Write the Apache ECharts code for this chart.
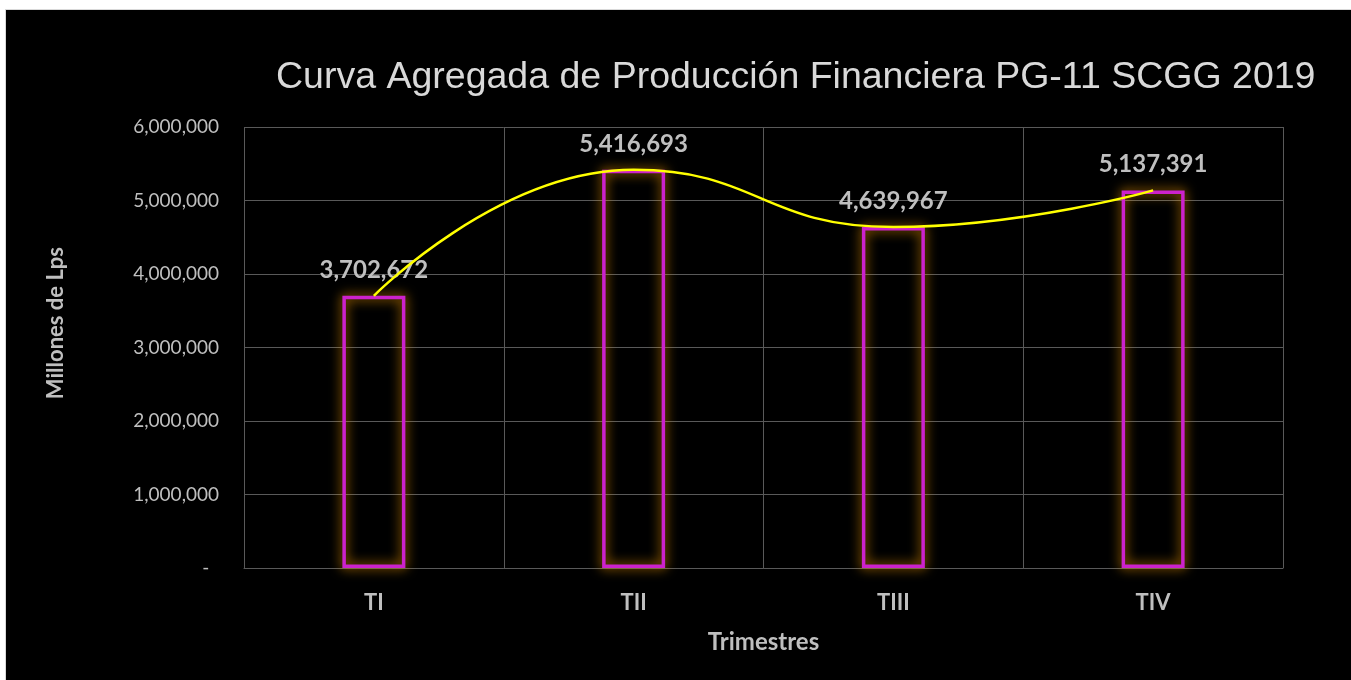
<!DOCTYPE html>
<html>
<head>
<meta charset="utf-8">
<script src="https://cdn.jsdelivr.net/npm/echarts@6/dist/echarts.min.js"></script>
<style>
  body { margin: 0; background: #ffffff; }
  #frame { position: absolute; left: 5px; top: 9px; width: 1346px; height: 671px; background: #d9d9d9; }
  #myChart01 { position: absolute; left: 6px; top: 10px; width: 1345px; height: 670px; background: #000000; }
</style>
</head>
<body>
<div id="frame"></div>
<div id="myChart01"></div>
<script>
// ----------------데이터----------------
const trimestres = ["TI", "TII", "TIII", "TIV"];
const produccion = [3702672, 5416693, 4639967, 5137391];
const yTicks = [0, 1000000, 2000000, 3000000, 4000000, 5000000, 6000000];

// ----------------막대 + 곡선 차트----------------
let chartDom = document.getElementById("myChart01");
let myChart = echarts.init(chartDom);
let option01;

option01 = {
  backgroundColor: "#000000",
  animation: false,
  title: {
    text: "Curva Agregada de Producción Financiera PG-11 SCGG 2019",
    left: 265,
    top: 44,
    textStyle: {
      fontFamily: "Liberation Sans",
      fontSize: 37.5,
      fontWeight: "normal",
      color: "#d9d9d9",
    },
  },
  grid: {
    left: 238,
    right: 68,
    top: 117,
    bottom: 112,
  },
  xAxis: {
    type: "category",
    data: trimestres,
    name: "Trimestres",
    nameLocation: "middle",
    nameGap: 62,
    nameTextStyle: {
      fontFamily: "Lato",
      fontSize: 24,
      fontWeight: "bold",
      color: "#bfbfbf",
    },
    axisLine: { lineStyle: { color: "#595959", width: 1 } },
    axisTick: { show: false }, // 눈금 제거
    axisLabel: {
      margin: 24,
      fontFamily: "Lato",
      fontSize: 22,
      fontWeight: "bold",
      color: "#bfbfbf",
    },
    splitLine: { show: true, lineStyle: { color: "#595959", width: 1 } },
  },
  yAxis: {
    type: "value",
    min: yTicks[0],
    max: yTicks[yTicks.length - 1],
    interval: yTicks[1] - yTicks[0],
    axisLine: { show: false },
    axisTick: { show: false },
    axisLabel: {
      margin: 25,
      fontFamily: "Lato",
      fontSize: 19,
      color: "#bfbfbf",
      formatter: function (v) {
        return v === 0 ? "-  " : v.toLocaleString("en-US");
      },
    },
    splitLine: { lineStyle: { color: "#595959", width: 1 } },
  },
  graphic: [
    {
      // y축 이름
      type: "text",
      left: 39,
      top: 237,
      rotation: Math.PI / 2,
      style: {
        text: "Millones de Lps",
        fontFamily: "Lato",
        fontSize: 22,
        fontWeight: "bold",
        fill: "#bfbfbf",
      },
    },
  ],
  series: [
    {
      name: "Producción",
      type: "bar",
      barWidth: 63,
      data: produccion,
      itemStyle: {
        color: "rgba(0,0,0,0)", //속 비움
        borderColor: "#cc22cc",
        borderWidth: 3.5,
        shadowColor: "rgba(255,160,0,1)",
        shadowBlur: 12,
      },
      label: {
        show: true,
        position: "top",
        distance: 14,
        fontFamily: "Lato",
        fontSize: 24,
        fontWeight: "bold",
        color: "#bfbfbf",
        formatter: function (p) {
          return p.value.toLocaleString("en-US");
        },
      },
    },
    {
      name: "Curva",
      type: "line",
      smooth: true,
      showSymbol: false,
      data: produccion,
      z: 5,
      lineStyle: { color: "#ffff00", width: 2.5 },
    },
  ],
};
myChart.setOption(option01);

window.onresize = function () {
  myChart.resize();
};
</script>
</body>
</html>
